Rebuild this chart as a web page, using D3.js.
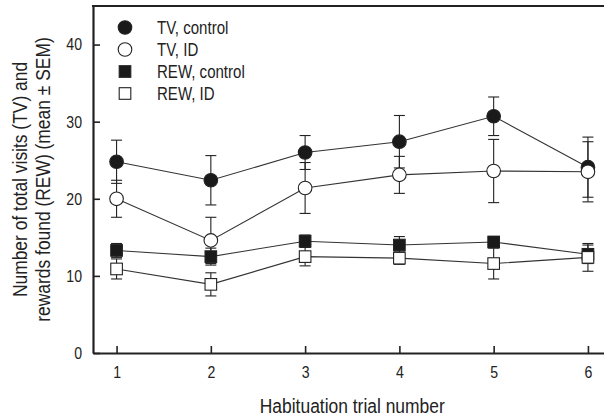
<!DOCTYPE html>
<html>
<head>
<meta charset="utf-8">
<script src="https://cdn.jsdelivr.net/npm/d3@7"></script>
<style>
  html, body { margin: 0; padding: 0; background: #fff; }
  svg text { font-family: "Liberation Sans", Arial, Helvetica, sans-serif; fill: #222; }
</style>
</head>
<body>
<svg id="chart" width="604" height="418"></svg>
<script>
// Habituation trials and group means (± SEM)
const trials = [1, 2, 3, 4, 5, 6];
const tvControl = [24.8, 22.4, 26.0, 27.4, 30.7, 24.1];
const tvControlSem = [2.8, 3.2, 2.2, 3.4, 2.5, 3.9];
const tvId = [20.0, 14.6, 21.4, 23.1, 23.6, 23.5];
const tvIdSem = [2.4, 3.0, 3.3, 2.4, 4.1, 3.9];
const rewControl = [13.3, 12.5, 14.5, 14.0, 14.4, 12.8];
const rewControlSem = [0.9, 1.1, 0.8, 1.1, 0.7, 1.2];
const rewId = [10.9, 8.9, 12.5, 12.3, 11.6, 12.4];
const rewIdSem = [1.3, 1.5, 1.2, 0.8, 2.0, 1.8];
const yTicks = [0, 10, 20, 30, 40];
const xTicks = [1, 2, 3, 4, 5, 6];

const seriesNames = ["TV, control", "TV, ID", "REW, control", "REW, ID"];

const series = [
  { name: seriesNames[2], values: rewControl, sem: rewControlSem, shape: "square", filled: true },
  { name: seriesNames[3], values: rewId, sem: rewIdSem, shape: "square", filled: false },
  { name: seriesNames[0], values: tvControl, sem: tvControlSem, shape: "circle", filled: true },
  { name: seriesNames[1], values: tvId, sem: tvIdSem, shape: "circle", filled: false }
];

const svg = d3.select("#chart");
const mLeft = 93, mRight = 611.5, mTop = 6, mBottom = 353;
const narrow = 0.83; // horizontal squeeze for a condensed sans look

const x = d3.scaleLinear().domain([0.75, 6.25]).range([mLeft, mRight]);
const y = d3.scaleLinear().domain([0, 45]).range([mBottom, mTop]);

const ink = "#222";

// Axes with inward ticks
const yAxis = d3.axisLeft(y).tickValues(yTicks).tickFormat(d3.format("d"))
  .tickSize(-7).tickPadding(11).tickSizeOuter(0);
const xAxis = d3.axisBottom(x).tickValues(xTicks).tickFormat(d3.format("d"))
  .tickSize(-7).tickPadding(13).tickSizeOuter(0);

const gy = svg.append("g").attr("transform", `translate(${mLeft},0)`).call(yAxis);
const gx = svg.append("g").attr("transform", `translate(0,${mBottom})`).call(xAxis);
[gx, gy].forEach(g => {
  g.select(".domain").attr("stroke", ink).attr("stroke-width", 2.2);
  g.selectAll(".tick line").attr("stroke", ink).attr("stroke-width", 1.6);
  g.selectAll(".tick text").attr("font-size", 17).attr("fill", ink)
    .attr("font-family", null)
    .each(function () {
      const t = d3.select(this);
      const tx = +t.attr("x") || 0, ty = +t.attr("y") || 0;
      t.attr("transform", `translate(${tx},${ty}) scale(${narrow},1)`).attr("x", 0).attr("y", 0);
    });
});

// Top frame line
svg.append("line")
  .attr("x1", mLeft - 1).attr("x2", mRight).attr("y1", mTop).attr("y2", mTop)
  .attr("stroke", ink).attr("stroke-width", 2.2);

// Axis titles
svg.append("text")
  .attr("transform", `translate(${(mLeft + mRight) / 2},413) scale(${narrow},1)`)
  .attr("text-anchor", "middle").attr("font-size", 21)
  .text("Habituation trial number");

const yTitle = svg.append("text")
  .attr("transform", `translate(27,${(mTop + mBottom) / 2}) rotate(-90) scale(${narrow},1)`)
  .attr("text-anchor", "middle").attr("font-size", 21);
yTitle.append("tspan").attr("x", 0).attr("y", 0).text("Number of total visits (TV) and");
yTitle.append("tspan").attr("x", 0).attr("y", 23).text("rewards found (REW) (mean \u00b1 SEM)");

const plot = svg.append("g");
const line = d3.line().x((d, i) => x(trials[i])).y(d => y(d));

// Connecting lines
series.forEach(s => {
  plot.append("path").datum(s.values)
    .attr("d", line).attr("fill", "none")
    .attr("stroke", "#333").attr("stroke-width", 1.1);
});

// Error bars
const capW = 5.5;
series.forEach(s => {
  const g = plot.append("g").attr("stroke", ink).attr("stroke-width", 1.1);
  s.values.forEach((v, i) => {
    const cx = x(trials[i]);
    const lo = y(v - s.sem[i]), hi = y(v + s.sem[i]);
    g.append("line").attr("x1", cx).attr("x2", cx).attr("y1", lo).attr("y2", hi);
    g.append("line").attr("x1", cx - capW).attr("x2", cx + capW).attr("y1", lo).attr("y2", lo);
    g.append("line").attr("x1", cx - capW).attr("x2", cx + capW).attr("y1", hi).attr("y2", hi);
  });
});

function drawMarker(g, shape, filled, cx, cy) {
  const fill = filled ? "#1a1a1a" : "#fff";
  if (shape === "circle") {
    g.append("circle").attr("cx", cx).attr("cy", cy).attr("r", 6.8)
      .attr("fill", fill).attr("stroke", ink).attr("stroke-width", 1.1);
  } else {
    g.append("rect").attr("x", cx - 5.8).attr("y", cy - 5.8).attr("width", 11.6).attr("height", 11.6)
      .attr("fill", fill).attr("stroke", ink).attr("stroke-width", 1.1);
  }
}

// Markers
series.forEach(s => {
  const g = plot.append("g");
  s.values.forEach((v, i) => drawMarker(g, s.shape, s.filled, x(trials[i]), y(v)));
});

// Legend
const legendOrder = [series[2], series[3], series[0], series[1]];
const legend = svg.append("g");
legendOrder.forEach((s, i) => {
  const cy = 27.5 + i * 22;
  drawMarker(legend, s.shape, s.filled, 125, cy);
  legend.append("text")
    .attr("transform", `translate(157,${cy + 6}) scale(0.86,1)`)
    .attr("font-size", 17.5).text(s.name);
});
</script>
</body>
</html>
